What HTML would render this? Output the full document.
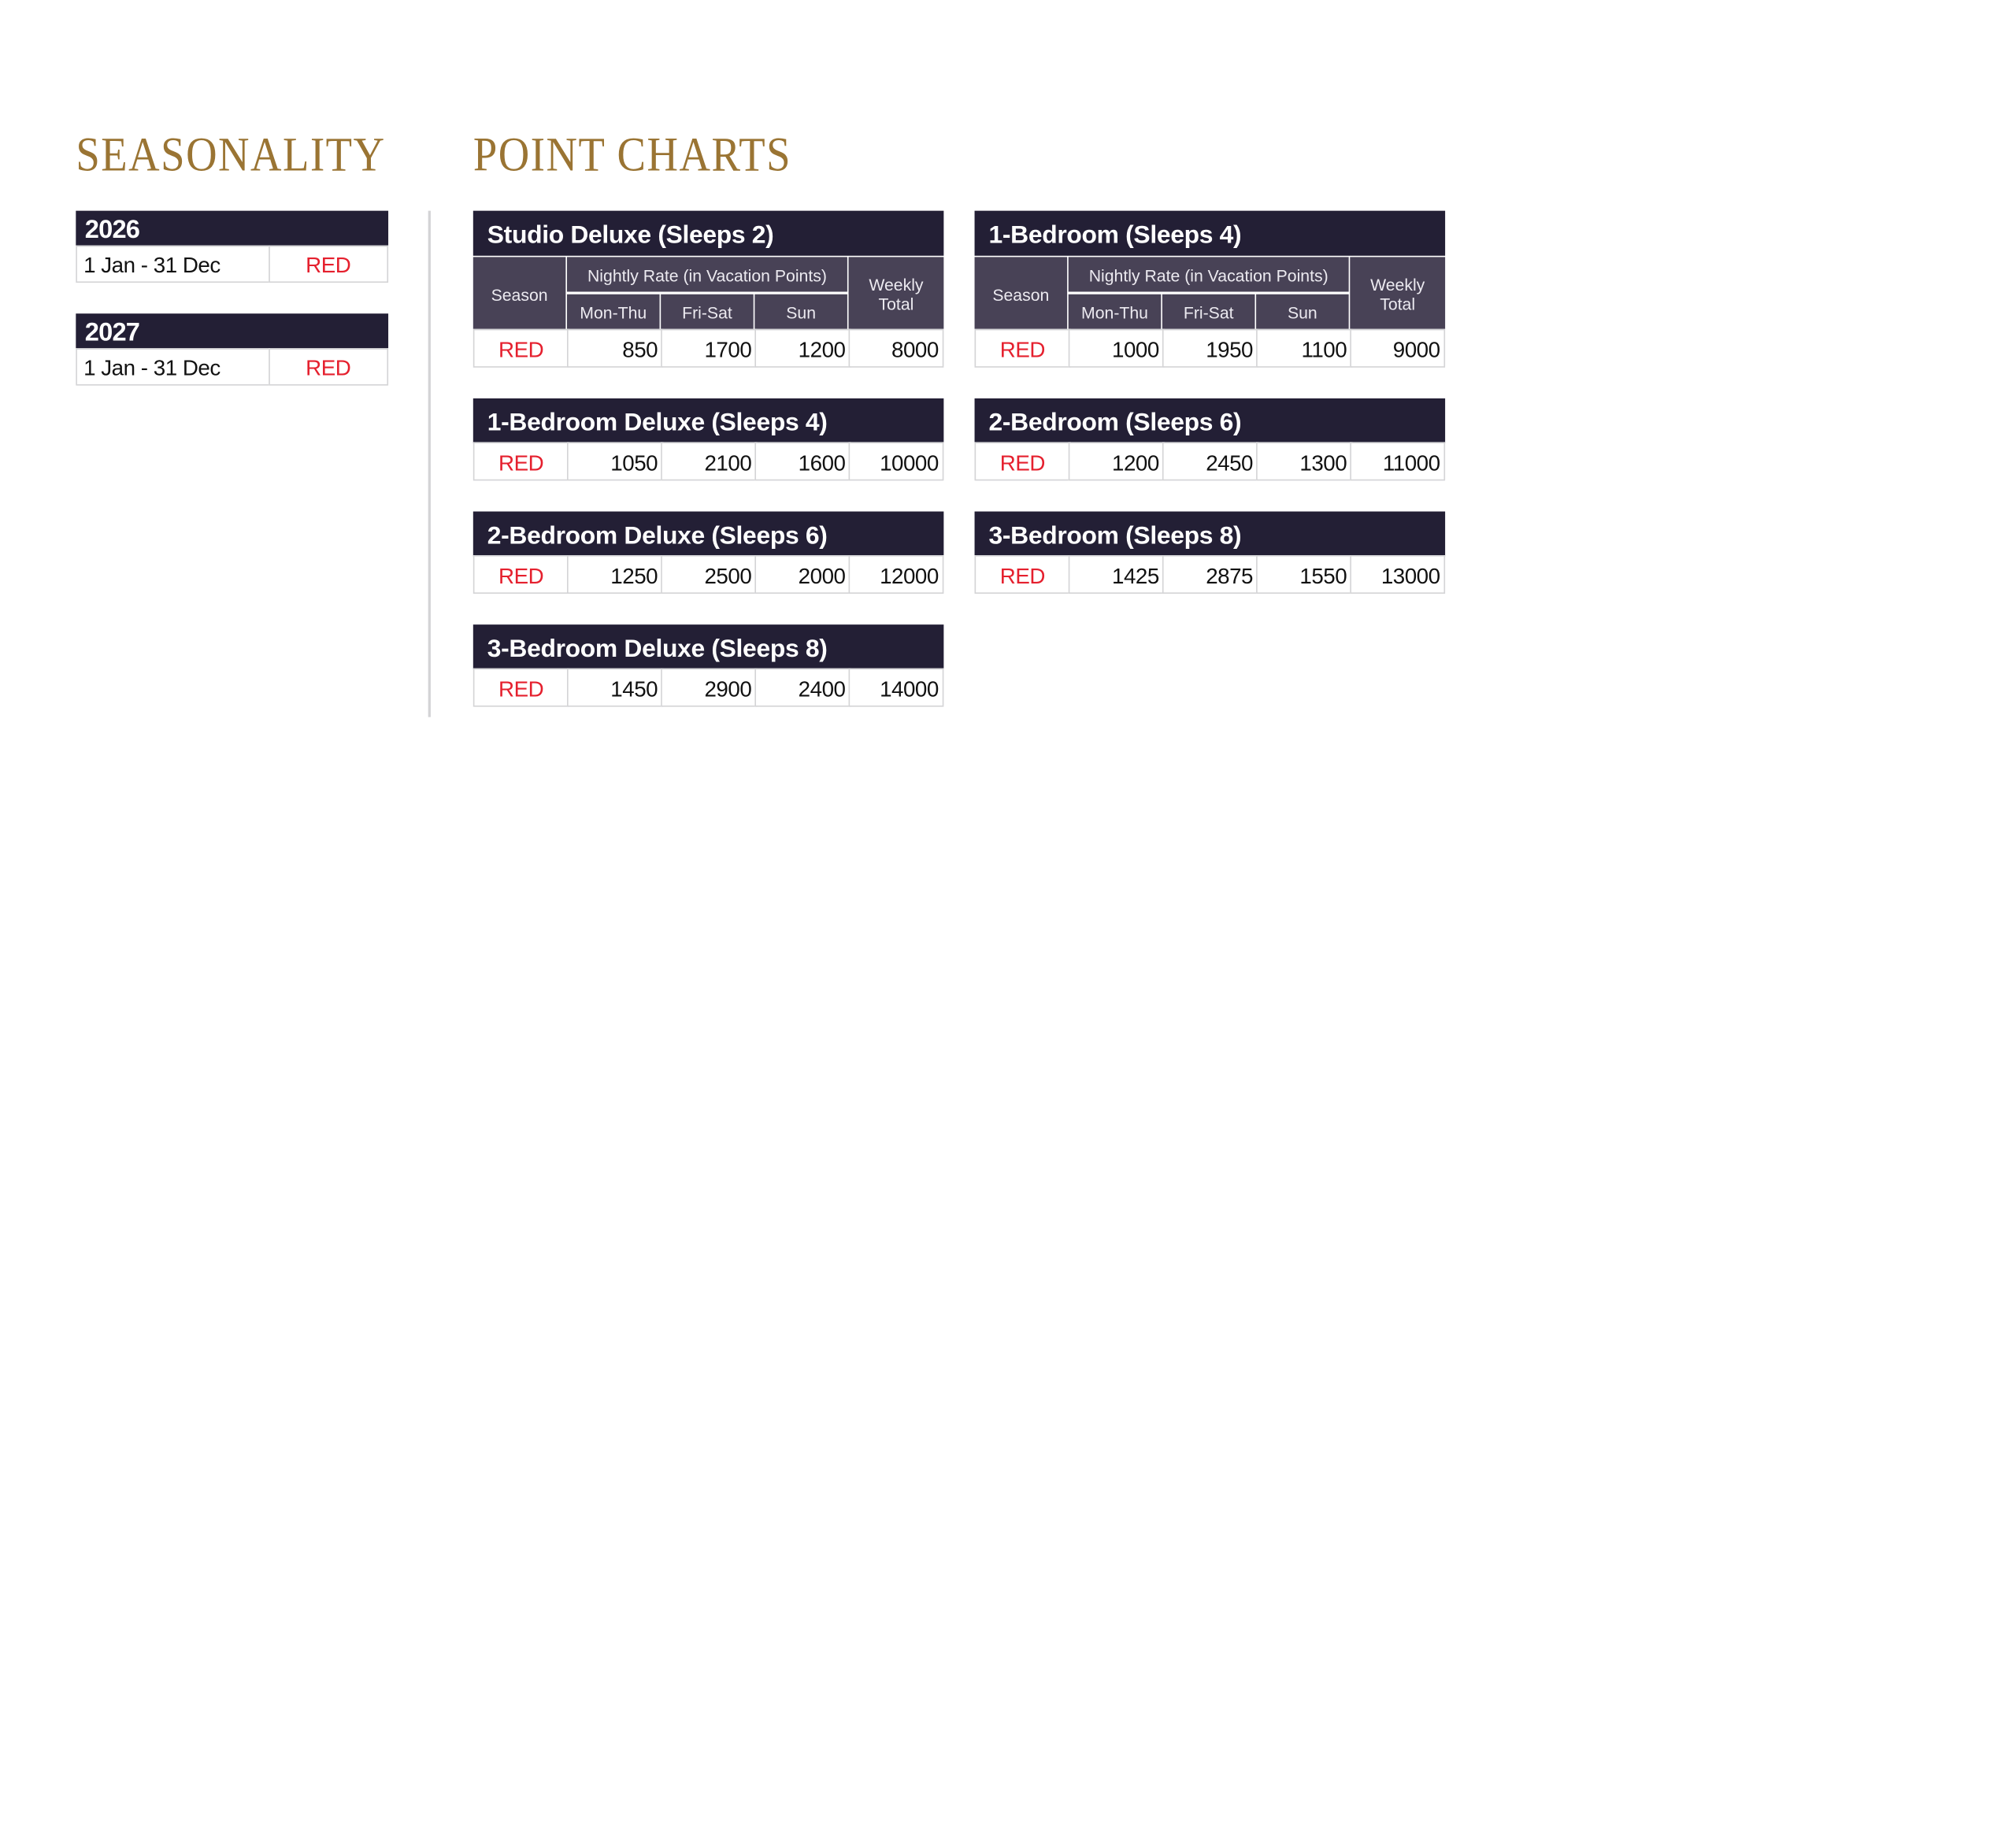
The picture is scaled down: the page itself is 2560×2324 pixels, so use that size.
<!DOCTYPE html>
<html><head><meta charset="utf-8"><style>
html,body{margin:0;padding:0;background:#fff;}
body{width:2560px;height:2324px;overflow:hidden;position:relative;}
#w{position:absolute;left:0;top:0;width:1568px;height:1424px;transform-origin:0 0;transform:scale(1.63265,1.63202);font-family:"Liberation Sans",sans-serif;}
.a{position:absolute;box-sizing:border-box;}
.h1{position:absolute;font-family:"Liberation Serif",serif;color:#9a7433;font-size:36px;letter-spacing:1px;top:100px;line-height:40px;transform-origin:0 50%;transform:scale(0.93,1.05);white-space:nowrap;}
.hd{background:#231f35;color:#fff;font-weight:bold;font-size:19.5px;letter-spacing:-0.2px;padding-left:11px;padding-top:3px;display:flex;align-items:center;}
.yr{font-size:20px;letter-spacing:-0.5px;}
.sh{background:#484256;color:#eceaf0;font-size:13px;display:flex;align-items:center;justify-content:center;text-align:center;line-height:15px;padding-top:2px;}
.c{background:#fff;border:1.5px solid #d4d4d6;font-size:17px;display:flex;align-items:center;justify-content:flex-end;padding-right:3px;padding-top:3px;color:#111;letter-spacing:-0.3px;}
.r{color:#e5202e;justify-content:center;padding-right:0;}
.line{background:#d4d4d6;}
</style></head><body><div id="w">
<div class="h1" style="left:59px">SEASONALITY</div>
<div class="h1" style="left:368px">POINT CHARTS</div>
<div class="a line" style="left:333px;top:164px;width:2px;height:394px"></div>

<div class="a hd yr" style="left:59px;top:164px;width:243px;height:27px;padding-left:7px">2026</div>
<div class="a c" style="left:59px;top:191px;width:151px;height:29px;justify-content:flex-start;padding-left:5px">1 Jan - 31 Dec</div>
<div class="a c r" style="left:208.5px;top:191px;width:93.5px;height:29px">RED</div>
<div class="a hd yr" style="left:59px;top:244px;width:243px;height:27px;padding-left:7px">2027</div>
<div class="a c" style="left:59px;top:271px;width:151px;height:29px;justify-content:flex-start;padding-left:5px">1 Jan - 31 Dec</div>
<div class="a c r" style="left:208.5px;top:271px;width:93.5px;height:29px">RED</div>

<!-- Studio Deluxe -->
<div class="a hd" style="left:368px;top:164px;width:366px;height:35px">Studio Deluxe (Sleeps 2)</div>
<div class="a sh" style="left:368px;top:200px;width:72px;height:56px">Season</div>
<div class="a sh" style="left:441px;top:200px;width:218px;height:27px">Nightly Rate (in Vacation Points)</div>
<div class="a sh" style="left:441px;top:229px;width:72px;height:27px">Mon-Thu</div>
<div class="a sh" style="left:514px;top:229px;width:72px;height:27px">Fri-Sat</div>
<div class="a sh" style="left:587px;top:229px;width:72px;height:27px">Sun</div>
<div class="a sh" style="left:660px;top:200px;width:74px;height:56px">Weekly<br>Total</div>
<div class="a c r" style="left:368px;top:256px;width:74.5px;height:30px">RED</div>
<div class="a c" style="left:441px;top:256px;width:74.5px;height:30px">850</div>
<div class="a c" style="left:514px;top:256px;width:74.5px;height:30px">1700</div>
<div class="a c" style="left:587px;top:256px;width:74.5px;height:30px">1200</div>
<div class="a c" style="left:660px;top:256px;width:74px;height:30px">8000</div>

<!-- 1-Bedroom -->
<div class="a hd" style="left:758px;top:164px;width:366px;height:35px">1-Bedroom (Sleeps 4)</div>
<div class="a sh" style="left:758px;top:200px;width:72px;height:56px">Season</div>
<div class="a sh" style="left:831px;top:200px;width:218px;height:27px">Nightly Rate (in Vacation Points)</div>
<div class="a sh" style="left:831px;top:229px;width:72px;height:27px">Mon-Thu</div>
<div class="a sh" style="left:904px;top:229px;width:72px;height:27px">Fri-Sat</div>
<div class="a sh" style="left:977px;top:229px;width:72px;height:27px">Sun</div>
<div class="a sh" style="left:1050px;top:200px;width:74px;height:56px">Weekly<br>Total</div>
<div class="a c r" style="left:758px;top:256px;width:74.5px;height:30px">RED</div>
<div class="a c" style="left:831px;top:256px;width:74.5px;height:30px">1000</div>
<div class="a c" style="left:904px;top:256px;width:74.5px;height:30px">1950</div>
<div class="a c" style="left:977px;top:256px;width:74.5px;height:30px">1100</div>
<div class="a c" style="left:1050px;top:256px;width:74px;height:30px">9000</div>

<!-- 1BR Deluxe -->
<div class="a hd" style="left:368px;top:310px;width:366px;height:35px">1-Bedroom Deluxe (Sleeps 4)</div>
<div class="a c r" style="left:368px;top:344px;width:74.5px;height:30px">RED</div>
<div class="a c" style="left:441px;top:344px;width:74.5px;height:30px">1050</div>
<div class="a c" style="left:514px;top:344px;width:74.5px;height:30px">2100</div>
<div class="a c" style="left:587px;top:344px;width:74.5px;height:30px">1600</div>
<div class="a c" style="left:660px;top:344px;width:74px;height:30px">10000</div>

<!-- 2BR -->
<div class="a hd" style="left:758px;top:310px;width:366px;height:35px">2-Bedroom (Sleeps 6)</div>
<div class="a c r" style="left:758px;top:344px;width:74.5px;height:30px">RED</div>
<div class="a c" style="left:831px;top:344px;width:74.5px;height:30px">1200</div>
<div class="a c" style="left:904px;top:344px;width:74.5px;height:30px">2450</div>
<div class="a c" style="left:977px;top:344px;width:74.5px;height:30px">1300</div>
<div class="a c" style="left:1050px;top:344px;width:74px;height:30px">11000</div>

<!-- 2BR Deluxe -->
<div class="a hd" style="left:368px;top:398px;width:366px;height:35px">2-Bedroom Deluxe (Sleeps 6)</div>
<div class="a c r" style="left:368px;top:432px;width:74.5px;height:30px">RED</div>
<div class="a c" style="left:441px;top:432px;width:74.5px;height:30px">1250</div>
<div class="a c" style="left:514px;top:432px;width:74.5px;height:30px">2500</div>
<div class="a c" style="left:587px;top:432px;width:74.5px;height:30px">2000</div>
<div class="a c" style="left:660px;top:432px;width:74px;height:30px">12000</div>

<!-- 3BR -->
<div class="a hd" style="left:758px;top:398px;width:366px;height:35px">3-Bedroom (Sleeps 8)</div>
<div class="a c r" style="left:758px;top:432px;width:74.5px;height:30px">RED</div>
<div class="a c" style="left:831px;top:432px;width:74.5px;height:30px">1425</div>
<div class="a c" style="left:904px;top:432px;width:74.5px;height:30px">2875</div>
<div class="a c" style="left:977px;top:432px;width:74.5px;height:30px">1550</div>
<div class="a c" style="left:1050px;top:432px;width:74px;height:30px">13000</div>

<!-- 3BR Deluxe -->
<div class="a hd" style="left:368px;top:486px;width:366px;height:35px">3-Bedroom Deluxe (Sleeps 8)</div>
<div class="a c r" style="left:368px;top:520px;width:74.5px;height:30px">RED</div>
<div class="a c" style="left:441px;top:520px;width:74.5px;height:30px">1450</div>
<div class="a c" style="left:514px;top:520px;width:74.5px;height:30px">2900</div>
<div class="a c" style="left:587px;top:520px;width:74.5px;height:30px">2400</div>
<div class="a c" style="left:660px;top:520px;width:74px;height:30px">14000</div>
</div></body></html>
